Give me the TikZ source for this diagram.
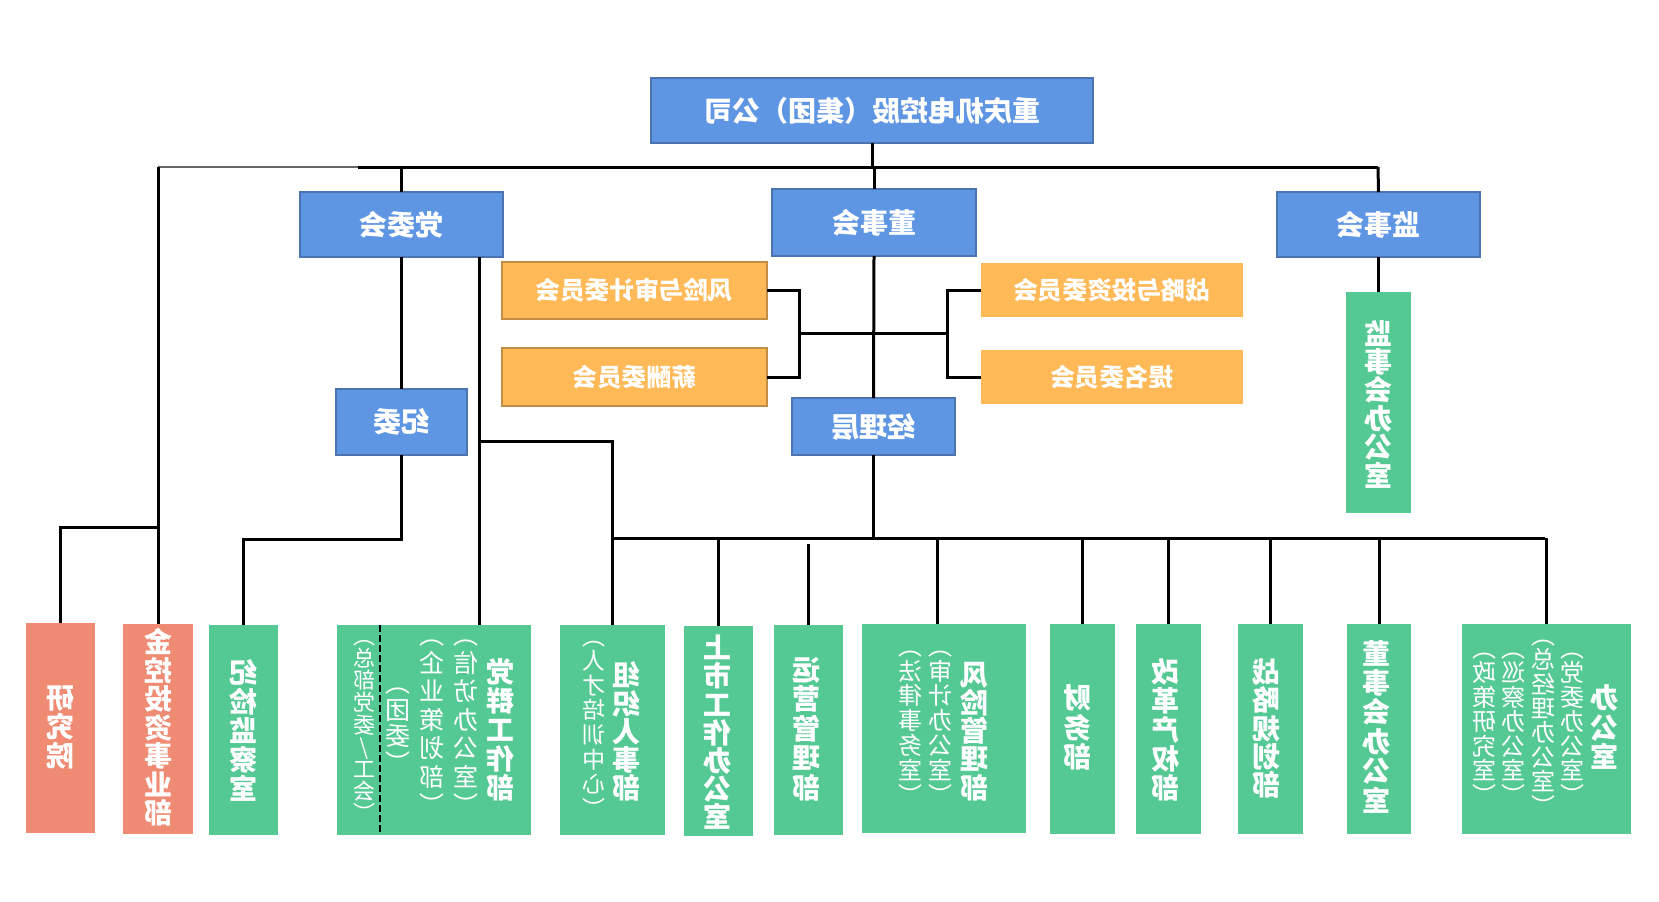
\documentclass[tikz,border=0pt]{standalone}
\usepackage{fontspec}
\newfontfamily\cjk{Noto Sans CJK SC}
\usetikzlibrary{fit}
\definecolor{bluef}{HTML}{5F96E3}
\definecolor{blued}{HTML}{4A73B0}
\definecolor{orf}{HTML}{FFB957}
\definecolor{ord}{HTML}{C08E45}
\definecolor{grn}{HTML}{55C994}
\definecolor{sal}{HTML}{EF8A73}
\newcommand\vcol[1]{\reflectbox{\vbox{\lineskiplimit=-\maxdimen\lineskip=0pt\let\\\cr\halign{\hfil##\hfil\cr#1\crcr}}}}
\newcommand\mir[1]{\reflectbox{#1}}
\begin{document}
\begin{tikzpicture}[x=0.5pt, y=-0.5pt,
  bx/.style={rectangle, inner sep=0pt, outer sep=0pt},
  bluebox/.style={bx, fill=bluef, draw=blued, line width=1pt},
  orbox/.style={bx, fill=orf, draw=ord, line width=1pt},
  orboxb/.style={bx, fill=orf},
  grbox/.style={bx, fill=grn},
  sabox/.style={bx, fill=sal},
  conn/.style={line width=1.5pt, black},
  htext/.style={text=white, inner sep=0pt, font=\cjk\bfseries\fontsize{14}{16}\selectfont},
  otext/.style={text=white, inner sep=0pt, font=\cjk\bfseries\fontsize{12.3}{14}\selectfont},
  vmain/.style={text=white, inner sep=0pt, font=\cjk\bfseries\fontsize{14}{#1}\selectfont},
  vmain/.default=14.5,
  vsub/.style 2 args={text=white, inner sep=0pt, font=\cjk\fontsize{#1}{#2}\selectfont}]
\useasboundingbox (0,0) rectangle (1659,901);
\fill[white] (0,0) rectangle (1659,901);

% ---------- boxes ----------
\node[bluebox, fit={(651,78)(1093,143)}] (top) {};
\node[bluebox, fit={(300,192)(503,257)}] (dw) {};
\node[bluebox, fit={(772,189)(976,256)}] (ds) {};
\node[bluebox, fit={(1277,192)(1480,257)}] (js) {};
\node[orbox, fit={(502,262)(767,319)}] (fx) {};
\node[orbox, fit={(502,348)(767,406)}] (xc) {};
\node[orboxb, fit={(981,263)(1243,317)}] (zl) {};
\node[orboxb, fit={(981,350)(1243,404)}] (tm) {};
\node[bluebox, fit={(336,389)(467,455)}] (jw) {};
\node[bluebox, fit={(792,398)(955,455)}] (jl) {};
\node[grbox, fit={(1346,292)(1411,513)}] (jsb) {};

\node[sabox, fit={(26,623)(95,833)}] (yjy) {};
\node[sabox, fit={(123,624)(193,834)}] (jk) {};
\node[grbox, fit={(209,625)(278,835)}] (jj) {};
\node[grbox, fit={(337,625)(531,835)}] (dq) {};
\node[grbox, fit={(560,625)(665,835)}] (zz) {};
\node[grbox, fit={(684,626)(753,836)}] (ss) {};
\node[grbox, fit={(774,625)(843,835)}] (yy) {};
\node[grbox, fit={(862,624)(1026,833)}] (fg) {};
\node[grbox, fit={(1050,624)(1115,834)}] (cw) {};
\node[grbox, fit={(1136,624)(1201,834)}] (gg) {};
\node[grbox, fit={(1238,624)(1303,834)}] (zg) {};
\node[grbox, fit={(1347,624)(1411,834)}] (dsb) {};
\node[grbox, fit={(1462,624)(1631,834)}] (bgs) {};

% ---------- connector points ----------
\coordinate (busL) at (158,167);
\coordinate (busG) at (358,167);
\coordinate (busR) at (1378,167);
\coordinate (lb) at (158,527);
\coordinate (dqin) at (479,625);
\coordinate (fgin) at (937,624);
\coordinate (mbL) at (612,538);
\coordinate (mbR) at (1545,538);
\coordinate (lbk) at (799,333);
\coordinate (rbk) at (947,333);

% ---------- connectors ----------
\draw[conn] (top.south) -- (top.south |- busL);
\draw[line width=0.9pt, black!60] (busL) -- (busG);
\draw[conn] (busG) -- (busR);
\draw[conn] (dw.north |- busL) -- (dw.north);
\draw[conn] (ds.north |- busL) -- (ds.north);
\draw[conn] (busR) -- (js.north);
\draw[conn] (js.south) -- (jsb.north);
\draw[conn] (busL) -- (jk.north);
\draw[conn] (yjy.north) |- (lb);
\draw[conn] (dw.south) -- (jw.north);
\draw[conn] (jw.south) -- ++(0,84) -| (jj.north);
\draw[conn] (dw.south -| dqin) -- (dqin);
\draw[conn] (dqin |- 0,441) -| (zz.north);
\draw[conn] (ds.south) -- (jl.north);
\draw[conn] (jl.south) -- (jl.south |- mbL);
\draw[conn] (mbL) -- (mbR);
\foreach \n in {ss,cw,gg,zg,dsb,bgs} \draw[conn] (\n.north |- mbL) -- (\n.north);
\draw[conn] (fgin |- mbL) -- (fgin);
\draw[conn] (yy.north) -- ++(0,-81);
\draw[conn] (fx.east) -| (lbk) |- (xc.east);
\draw[conn] (zl.west) -| (rbk) |- (tm.west);
\draw[conn] (lbk) -- (rbk);
\draw[black, line width=1pt, dash pattern=on 3.5pt off 1.5pt] (380,625) -- (380,835);

% ---------- horizontal texts ----------
\node[htext] at (top) {\mir{重庆机电控股（集团）公司}};
\node[htext] at (dw) {\mir{党委会}};
\node[htext] at (ds) {\mir{董事会}};
\node[htext] at (js) {\mir{监事会}};
\node[htext] at (jw) {\mir{纪委}};
\node[htext] at (jl) {\mir{经理层}};
\node[otext] at (fx) {\mir{风险与审计委员会}};
\node[otext] at (xc) {\mir{薪酬委员会}};
\node[otext] at (zl) {\mir{战略与投资委员会}};
\node[otext] at (tm) {\mir{提名委员会}};

% ---------- vertical texts ----------
\node[vmain=14.2] at (1378,404) {\vcol{监\\事\\会\\办\\公\\室}};
\node[vmain] at (60.5,727.5) {\vcol{研\\究\\院}};
\node[vmain=14.25] at (158,727.5) {\vcol{金\\控\\投\\资\\事\\业\\部}};
\node[vmain] at (243.5,730) {\vcol{纪\\检\\监\\察\\室}};
\node[vmain] at (500,730) {\vcol{党\\群\\工\\作\\部}};
\node[vsub={12.5}{14.17}] at (466,727) {\vcol{︵\\信\\访\\办\\公\\室\\︶}};
\node[vsub={12.5}{14.17}] at (432,727) {\vcol{︵\\企\\业\\策\\划\\部\\︶}};
\node[vsub={12.5}{13.3}] at (398,730) {\vcol{︵\\团\\委\\︶}};
\node[vsub={11}{11.1}] at (364,731) {\vcol{︵\\总\\部\\党\\委\\/\\工\\会\\︶}};
\node[vmain=14.1] at (626,731.5) {\vcol{组\\织\\人\\事\\部}};
\node[vsub={11.5}{12.3}] at (594,729) {\vcol{︵\\人\\才\\培\\训\\中\\心\\︶}};
\node[vmain=14.1] at (717.5,732.5) {\vcol{上\\市\\工\\作\\办\\公\\室}};
\node[vmain=14.75] at (806,729) {\vcol{运\\营\\管\\理\\部}};
\node[vmain=14.1] at (974,731.5) {\vcol{风\\险\\管\\理\\部}};
\node[vsub={12}{12.4}] at (940,727.5) {\vcol{︵\\审\\计\\办\\公\\室\\︶}};
\node[vsub={12}{12.4}] at (910,727.5) {\vcol{︵\\法\\律\\事\\务\\室\\︶}};
\node[vmain=14.75] at (1077,727.5) {\vcol{财\\务\\部}};
\node[vmain] at (1165,729.5) {\vcol{改\\革\\产\\权\\部}};
\node[vmain=14.1] at (1266,728.5) {\vcol{战\\略\\规\\划\\部}};
\node[vmain=14.7] at (1376,726.5) {\vcol{董\\事\\会\\办\\公\\室}};
\node[vmain=14.75] at (1604,727.5) {\vcol{办\\公\\室}};
\node[vsub={12}{12.25}] at (1572,728.5) {\vcol{︵\\党\\委\\办\\公\\室\\︶}};
\node[vsub={12}{12.2}] at (1543,727.5) {\vcol{︵\\总\\经\\理\\办\\公\\室\\︶}};
\node[vsub={12}{12.25}] at (1513,728.5) {\vcol{︵\\巡\\察\\办\\公\\室\\︶}};
\node[vsub={12}{12.25}] at (1484,728.5) {\vcol{︵\\政\\策\\研\\究\\室\\︶}};
\end{tikzpicture}
\end{document}
